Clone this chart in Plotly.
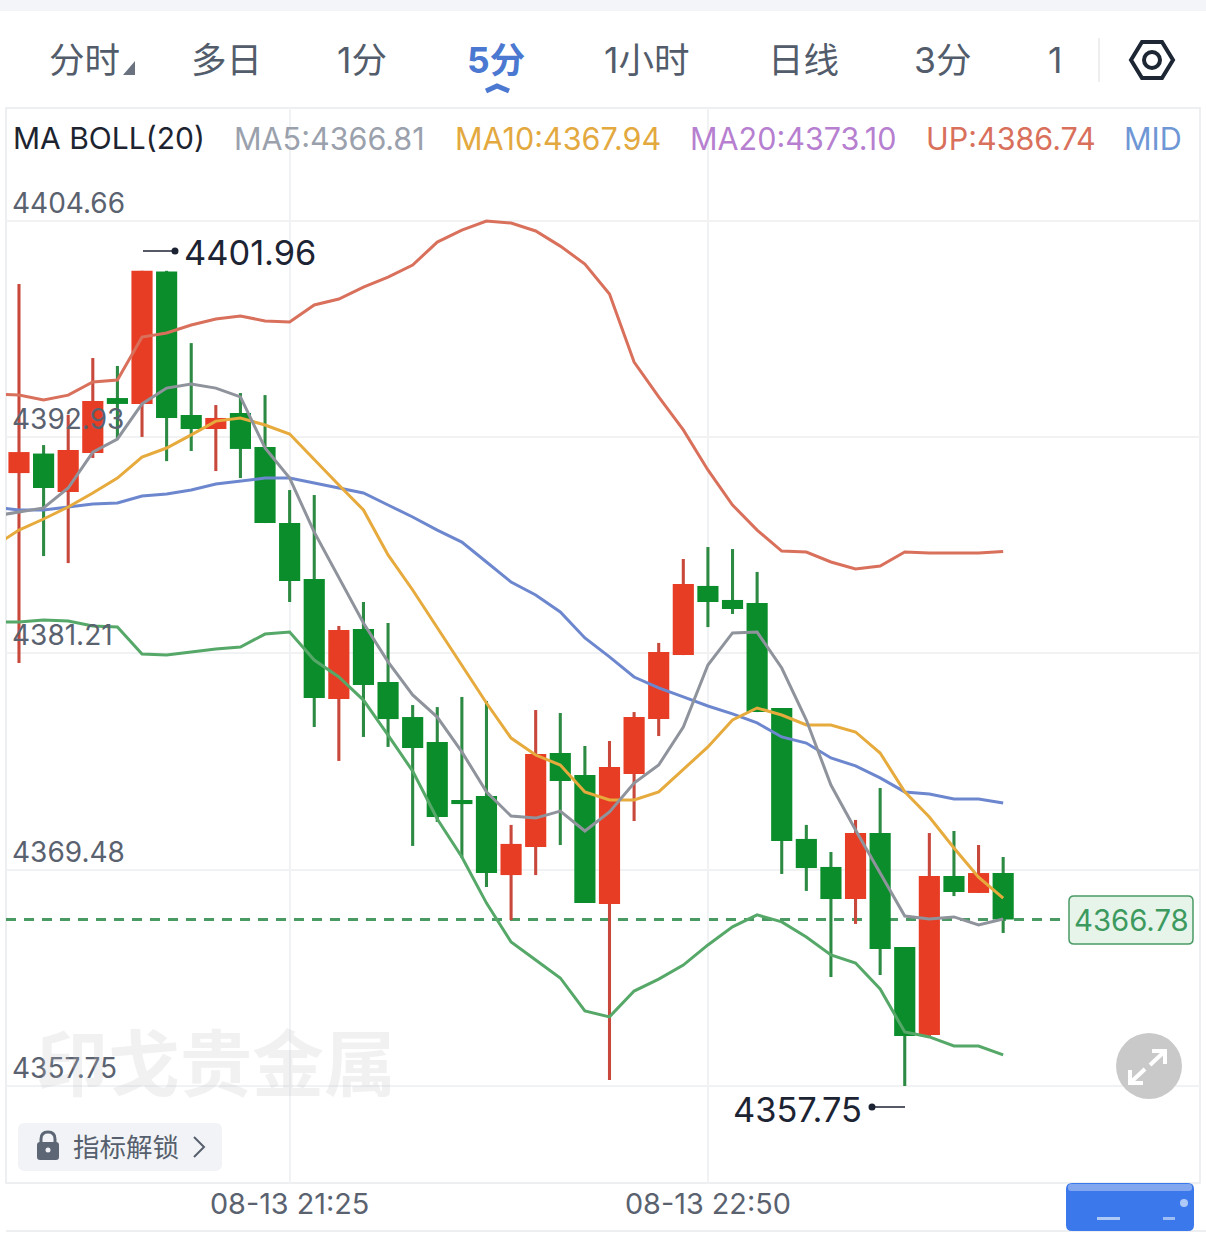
import plotly.graph_objects as go

# ---------- data ----------
candle_index = list(range(41))
opens = [4390.99,4392.05,4389.96,4392.08,4395.06,4394.74,4401.92,4394.14,4393.38,4394.25,4392.40,4388.28,4385.25,4378.74,4382.53,4379.66,4377.76,4376.41,4373.26,4373.48,4369.19,4370.71,4375.81,4374.62,4367.62,4374.67,4377.65,4381.12,4384.87,4384.11,4383.94,4378.25,4371.15,4369.63,4367.89,4371.47,4365.29,4360.52,4369.14,4368.22,4369.30]
highs = [4401.24,4392.51,4394.14,4397.23,4396.80,4401.96,4401.96,4398.04,4394.68,4395.33,4395.22,4390.07,4389.80,4382.70,4384.00,4382.86,4378.41,4378.30,4378.85,4378.63,4371.91,4378.14,4377.98,4376.19,4376.46,4378.03,4381.78,4386.33,4386.98,4386.87,4385.63,4378.25,4371.91,4370.44,4372.18,4373.91,4365.29,4371.47,4371.58,4370.82,4370.17]
lows = [4380.69,4386.49,4386.11,4391.81,4392.89,4392.95,4391.64,4392.19,4391.10,4390.72,4388.28,4384.00,4377.22,4375.38,4376.68,4376.14,4370.77,4372.07,4370.12,4368.54,4366.75,4369.19,4370.82,4367.68,4358.08,4372.12,4376.73,4381.12,4382.64,4383.35,4378.03,4369.25,4368.33,4363.66,4366.54,4363.77,4357.75,4360.41,4368.05,4368.22,4366.05]
closes = [4392.13,4390.18,4392.24,4394.90,4394.74,4401.96,4393.98,4393.38,4393.98,4392.30,4388.28,4385.14,4378.79,4382.48,4379.50,4377.65,4376.08,4372.34,4373.04,4369.30,4370.88,4375.76,4374.29,4367.68,4375.05,4377.76,4381.29,4384.97,4384.00,4383.62,4378.03,4371.04,4369.57,4367.89,4371.47,4365.18,4360.46,4369.14,4368.27,4369.30,4366.78]

line_index = list(range(-1, 41))
up_band = [4395.28,4395.22,4394.95,4395.22,4395.93,4396.04,4398.37,4398.59,4399.02,4399.35,4399.51,4399.24,4399.18,4400.11,4400.43,4401.08,4401.62,4402.27,4403.52,4404.17,4404.66,4404.55,4404.12,4403.30,4402.33,4400.70,4397.01,4395.12,4393.33,4391.16,4389.26,4387.90,4386.76,4386.71,4386.17,4385.79,4385.95,4386.71,4386.66,4386.66,4386.66,4386.74]
ma5 = [4388.66,4388.88,4389.10,4390.18,4392.13,4392.84,4394.74,4395.60,4395.82,4395.60,4395.12,4392.35,4390.72,4387.79,4385.30,4382.86,4380.75,4378.96,4377.76,4375.87,4373.70,4372.39,4372.28,4372.66,4371.58,4372.61,4374.18,4375.16,4377.22,4380.58,4382.32,4382.37,4380.42,4377.60,4374.07,4371.63,4369.30,4366.97,4366.81,4366.92,4366.48,4366.81]
ma10 = [4387.04,4387.90,4388.50,4389.15,4389.91,4390.72,4391.86,4392.35,4393.06,4393.81,4393.98,4393.60,4393.11,4391.70,4390.34,4388.99,4386.55,4384.65,4382.59,4380.58,4378.52,4376.62,4375.70,4375.16,4373.70,4373.26,4373.26,4373.70,4374.94,4376.14,4377.60,4378.25,4377.87,4377.33,4377.33,4376.95,4375.81,4373.70,4372.34,4370.66,4369.08,4367.94]
mid_band = [4389.15,4388.99,4388.99,4389.15,4389.31,4389.37,4389.75,4389.86,4390.07,4390.40,4390.56,4390.72,4390.72,4390.45,4390.18,4389.91,4389.26,4388.61,4387.90,4387.25,4386.17,4385.08,4384.38,4383.46,4382.05,4381.02,4379.93,4379.34,4378.85,4378.36,4377.93,4377.44,4376.68,4376.35,4375.54,4375.11,4374.46,4373.70,4373.59,4373.32,4373.32,4373.10]
low_band = [4382.91,4382.91,4383.02,4382.97,4382.70,4382.64,4381.18,4381.12,4381.29,4381.45,4381.56,4382.26,4382.37,4380.85,4379.93,4378.68,4376.78,4374.83,4372.23,4370.17,4367.67,4365.56,4364.58,4363.61,4361.82,4361.50,4362.90,4363.55,4364.31,4365.40,4366.38,4367.03,4366.65,4365.83,4364.86,4364.42,4363.01,4360.68,4360.41,4359.92,4359.92,4359.44]

y_ticks = [4404.66, 4392.93, 4381.21, 4369.48, 4357.75]
y_tick_labels = ["4404.66", "4392.93", "4381.21", "4369.48", "4357.75"]
x_ticks = [11, 28]
x_tick_labels = ["08-13 21:25", "08-13 22:50"]
last_price = 4366.78

tabs = ["分时", "多日", "1分", "5分", "1小时", "日线", "3分", "1"]
tab_centers = [84, 226, 362, 496, 647, 803, 942, 1055]
legend_items = ["MA BOLL(20)", "MA5:4366.81", "MA10:4367.94", "MA20:4373.10", "UP:4386.74", "MID"]
legend_lefts = [13, 234, 455, 690, 926, 1124]
legend_colors = ["#1d2430", "#9aa1ac", "#e3a93f", "#b77fd0", "#d9705c", "#6f97d6"]

# ---------- page geometry ----------
W, H = 1206, 1235
FONT = "Inter, Noto Sans CJK SC, sans-serif"
px = lambda v: v / W
py = lambda v: 1 - v / H

fig = go.Figure()

rising = [c >= o for o, c in zip(opens, closes)]
wick_colors = ["#c8483c" if r else "#2c8a42" for r in rising]
body_colors = ["#e83d25" if r else "#0b8d2c" for r in rising]

fig.add_trace(go.Bar(x=candle_index, base=lows, y=[h - l for h, l in zip(highs, lows)],
                     width=0.125, marker=dict(color=wick_colors, line=dict(width=0)),
                     showlegend=False, hoverinfo="skip"))
fig.add_trace(go.Bar(x=candle_index, base=[min(o, c) for o, c in zip(opens, closes)],
                     y=[abs(c - o) for o, c in zip(opens, closes)],
                     width=0.86, marker=dict(color=body_colors, line=dict(width=0)),
                     showlegend=False, hoverinfo="skip"))
for series, color in [(up_band, "#d9705c"), (low_band, "#55a868"), (mid_band, "#6d87cf"),
                      (ma10, "#e6aa3d"), (ma5, "#8f939c")]:
    fig.add_trace(go.Scatter(x=line_index, y=series, mode="lines",
                             line=dict(color=color, width=3), showlegend=False, hoverinfo="skip"))

shapes = []
annotations = []


def text(s, x, y, size, color, anchor="left", weight=None, family=FONT):
    f = dict(size=size, color=color, family=family)
    if weight:
        f["weight"] = weight
    annotations.append(dict(text=s, x=px(x), y=py(y), xref="paper", yref="paper",
                            xanchor=anchor, yanchor="middle", showarrow=False, font=f,
                            borderpad=0, borderwidth=0))


def rect(x0, y0, x1, y1, fill, line=None, lw=0, layer="above"):
    shapes.append(dict(type="rect", xref="paper", yref="paper", x0=px(x0), x1=px(x1), y0=py(y0), y1=py(y1),
                       fillcolor=fill, line=dict(color=line or fill, width=lw), layer=layer))


def seg(x0, y0, x1, y1, color, lw=1, dash=None, layer="above"):
    shapes.append(dict(type="line", xref="paper", yref="paper", x0=px(x0), x1=px(x1), y0=py(y0), y1=py(y1),
                       line=dict(color=color, width=lw, dash=dash), layer=layer))


def circle(cx, cy, r, fill, line=None, lw=0, layer="above"):
    shapes.append(dict(type="circle", xref="paper", yref="paper", x0=px(cx - r), x1=px(cx + r),
                       y0=py(cy + r), y1=py(cy - r), fillcolor=fill, line=dict(color=line or fill, width=lw), layer=layer))


def path(points, close=False, fill=None, line=None, lw=0, layer="above", curve=None):
    d = "M " + " L ".join(f"{px(a)},{py(b)}" for a, b in points)
    if curve:
        d = curve
    if close:
        d += " Z"
    shapes.append(dict(type="path", xref="paper", yref="paper", path=d,
                       fillcolor=fill or "rgba(0,0,0,0)",
                       line=dict(color=line or "rgba(0,0,0,0)", width=lw), layer=layer))


def round_rect(x0, y0, x1, y1, r, fill, line=None, lw=0):
    d = (f"M {px(x0+r)},{py(y0)} L {px(x1-r)},{py(y0)} Q {px(x1)},{py(y0)} {px(x1)},{py(y0+r)} "
         f"L {px(x1)},{py(y1-r)} Q {px(x1)},{py(y1)} {px(x1-r)},{py(y1)} "
         f"L {px(x0+r)},{py(y1)} Q {px(x0)},{py(y1)} {px(x0)},{py(y1-r)} "
         f"L {px(x0)},{py(y0+r)} Q {px(x0)},{py(y0)} {px(x0+r)},{py(y0)}")
    path([], close=True, fill=fill, line=line, lw=lw, curve=d)


# top band and frame
rect(0, 0, W, 11, "#f4f5f8", layer="below")
rect(6, 108, 1200, 1183, "rgba(0,0,0,0)", "#e9eaed", 1.5, layer="below")
seg(6, 1231, W, 1231, "#e9eaed", 1.5, layer="below")

# tabs
for s, c in zip(tabs, tab_centers):
    active = s == "5分"
    text(s, c, 60, 35.5, "#4b78d0" if active else "#525c6b", anchor="center", weight=700 if active else None)
path([(123, 75), (135, 75), (135, 61)], close=True, fill="#6a7280")
path([(486, 91), (497, 86), (509, 91)], line="#4b78d0", lw=5)
seg(1099, 38, 1099, 82, "#eceef0", 2)
path([(1131, 60), (1142, 42), (1162, 42), (1173, 60), (1162, 78), (1142, 78)], close=True, line="#1d2633", lw=4)
circle(1152, 60, 8, "rgba(0,0,0,0)", "#1d2633", 4)

# indicator legend
for s, x, c in zip(legend_items, legend_lefts, legend_colors):
    text(s, x, 138, 30 if s.startswith("MA BOLL") else 30.5, c)

# watermark
text("印戈贵金属", 216, 1058, 72, "rgba(190,192,198,0.22)", anchor="center", weight=700,
     family="Noto Sans CJK SC")

# current price
shapes.append(dict(type="line", xref="paper", yref="y", x0=px(6), x1=px(1068), y0=last_price, y1=last_price,
                   line=dict(color="#4a9a64", width=3, dash="10px,8px"), layer="below"))
round_rect(1069, 896, 1193, 944, 5, "#e6f4ea", "#4a9a64", 1.5)
text("4366.78", 1131, 920, 29.3, "#3d9a5f", anchor="center")

# high / low markers
seg(143, 251, 175, 251, "#1c2333", 1.5)
circle(175, 251, 3.5, "#1c2333")
text("4401.96", 184, 253, 34.4, "#1c2333")
seg(872, 1107, 905, 1107, "#1c2333", 1.5)
circle(872, 1107, 3.5, "#1c2333")
text("4357.75", 862, 1109, 34.4, "#1c2333", anchor="right")

# unlock button
round_rect(18, 1123, 222, 1171, 7, "#f2f3f6")
round_rect(37, 1142, 59, 1160, 3, "#5d6675")
circle(48, 1150, 2.5, "#f2f3f6")
path([], line="#5d6675", lw=3,
     curve=f"M {px(41)},{py(1143)} L {px(41)},{py(1139)} Q {px(41)},{py(1132)} {px(48)},{py(1132)} "
           f"Q {px(55)},{py(1132)} {px(55)},{py(1139)} L {px(55)},{py(1143)}")
text("指标解锁", 73, 1147, 26.5, "#565f6d")
path([(194, 1137), (204, 1147), (194, 1157)], line="#565f6d", lw=2)

# expand button
circle(1149, 1066, 33, "#c9c9c9")
for a, b in [((1150, 1065), (1165, 1051)), ((1145, 1069), (1130, 1083))]:
    seg(a[0], a[1], b[0], b[1], "#ffffff", 4)
path([(1152, 1051), (1165, 1051), (1165, 1064)], line="#ffffff", lw=4)
path([(1130, 1070), (1130, 1083), (1143, 1083)], line="#ffffff", lw=4)

# blurred blue button
round_rect(1066, 1183, 1194, 1231, 6, "#3b78ec")
round_rect(1068, 1184, 1192, 1191, 3, "rgba(190,205,240,0.55)")
rect(1097, 1217, 1120, 1220, "rgba(225,235,252,0.7)")
rect(1163, 1217, 1175, 1220, "rgba(225,235,252,0.6)")
circle(1184, 1203, 4, "rgba(225,235,252,0.7)")

fig.update_layout(
    width=W, height=H, autosize=False,
    margin=dict(l=0, r=0, t=0, b=0, pad=0),
    paper_bgcolor="#ffffff", plot_bgcolor="#ffffff",
    showlegend=False, hovermode=False, barmode="overlay",
    font=dict(family=FONT),
    shapes=shapes, annotations=annotations,
    xaxis=dict(domain=[px(6), px(1200)], range=[-0.528, 48.0],
               tickmode="array", tickvals=x_ticks, ticktext=x_tick_labels, ticks="", showline=False,
               showgrid=True, gridcolor="#f1f2f4", gridwidth=1.5, zeroline=False,
               tickfont=dict(size=28.8, color="#5a6270", family=FONT), ticklabelstandoff=1),
    yaxis=dict(domain=[py(1183), py(108)], range=[4352.49, 4410.79],
               tickmode="array", tickvals=y_ticks, ticktext=y_tick_labels, ticks="", showline=False,
               ticklabelposition="inside", ticklabelshift=-18, ticklabelstandoff=3,
               showgrid=True, gridcolor="#f1f2f4", gridwidth=1.5, zeroline=False,
               tickfont=dict(size=28, color="#5a6270", family=FONT)),
)

fig.write_html("out.html", include_plotlyjs=True,
               config=dict(displayModeBar=False, responsive=False),
               post_script="document.body.style.margin='0';document.body.style.overflow='hidden';")
